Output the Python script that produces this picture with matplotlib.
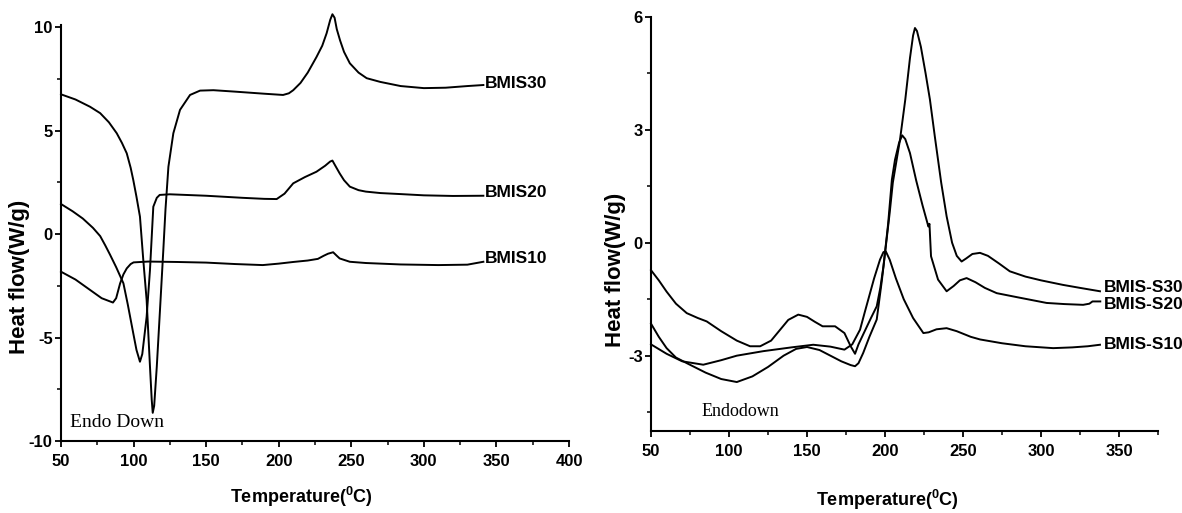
import matplotlib
matplotlib.use("Agg")
import matplotlib.pyplot as plt
from matplotlib.ticker import MultipleLocator

# ---------------- data ----------------
# Left panel
bmis30_T = [50, 60, 70, 77, 83, 88.4, 92, 95.3, 98, 99.8, 102, 104.4, 106.7, 109, 111.3, 112.5, 113.2,
            114.2, 116, 118.2, 120.5, 122, 124, 127.4, 132, 138.9, 145.8, 155, 170, 190, 203, 207, 210,
            215, 220, 226, 230, 233, 235.5, 237, 238.5, 240, 242.3, 245, 249, 255, 260.6, 270, 284,
            300, 315, 330, 341]
bmis30_Q = [6.75, 6.5, 6.15, 5.84, 5.4, 4.87, 4.4, 3.9, 3.2, 2.61, 1.8, 0.84, -1.26, -3.19, -6.4, -8.0, -8.64,
            -8.3, -6.4, -3.67, -0.77, 1.2, 3.25, 4.87, 6.0, 6.72, 6.93, 6.95, 6.88, 6.78, 6.72, 6.8, 6.95,
            7.3, 7.8, 8.55, 9.1, 9.7, 10.35, 10.62, 10.45, 9.9, 9.35, 8.8, 8.25, 7.8, 7.53, 7.35, 7.15,
            7.05, 7.07, 7.15, 7.2]

bmis20_T = [50, 58, 65, 72, 77, 80.5, 83.8, 88, 93, 96, 99.8, 102, 104.4, 106, 109, 111.3, 113.6, 116,
            118, 125, 150, 175, 190, 198.6, 204, 210, 218, 226, 232, 235.4, 237, 239, 242, 245, 249,
            255, 260, 270, 284, 300, 320, 341]
bmis20_Q = [1.45, 1.1, 0.75, 0.3, -0.1, -0.55, -1.0, -1.6, -2.38, -3.4, -4.8, -5.6, -6.17, -5.8, -4.0, -1.74,
            1.32, 1.75, 1.89, 1.92, 1.85, 1.75, 1.7, 1.69, 1.95, 2.45, 2.75, 3.01, 3.3, 3.5, 3.55, 3.3,
            2.93, 2.6, 2.29, 2.12, 2.05, 1.98, 1.93, 1.87, 1.84, 1.85]

bmis10_T = [50, 60, 70, 78, 85.8, 88, 90.7, 93, 95.3, 98, 100, 110, 130, 150, 170, 189, 200, 210, 220,
            227, 231, 234, 237.5, 240, 242, 249, 260, 284, 310, 330, 341]
bmis10_Q = [-1.82, -2.2, -2.7, -3.1, -3.31, -3.1, -2.39, -1.95, -1.66, -1.45, -1.37, -1.33, -1.35, -1.38,
            -1.45, -1.5, -1.43, -1.35, -1.28, -1.2, -1.05, -0.95, -0.88, -1.05, -1.18, -1.34, -1.4, -1.47,
            -1.5, -1.48, -1.34]

left_labels = ["BMIS30", "BMIS20", "BMIS10"]
left_label_y = [7.27, 2.0, -1.17]

# Right panel
s30_T = [50, 55, 60, 66, 73, 85, 95, 105, 115, 125, 135, 143, 150, 158, 165, 172, 178, 180.8, 183, 186,
         190, 194.7, 198, 203, 205, 209.6, 213, 216, 218, 219.2, 220.5, 223, 226, 228.8, 232, 236,
         239.5, 243, 246, 249.1, 252, 256, 260.9, 266, 273, 280, 290, 300, 314, 325, 337.8]
s30_Q = [-2.15, -2.5, -2.8, -3.05, -3.2, -3.45, -3.62, -3.7, -3.55, -3.3, -3.0, -2.82, -2.77, -2.85, -3.0,
         -3.15, -3.25, -3.28, -3.2, -2.93, -2.5, -2.04, -1.0, 0.79, 1.59, 2.73, 3.8, 4.9, 5.5, 5.7, 5.62,
         5.2, 4.5, 3.8, 2.8, 1.6, 0.7, 0.0, -0.35, -0.5, -0.42, -0.3, -0.27, -0.35, -0.55, -0.76, -0.9,
         -1.0, -1.12, -1.2, -1.29]

s20_T = [50, 55, 60, 66, 72.9, 80, 85.7, 95, 105, 113.5, 120, 127, 133, 138, 144.4, 150, 155, 160, 168,
         174, 178, 180.8, 183, 187, 191, 194.7, 197, 199, 202, 204.4, 206.4, 209, 211, 213, 216, 220,
         224, 227.8, 228.5, 229.5, 234, 239.5, 244, 248, 252.3, 258, 264, 271.6, 285, 303.6, 315, 327,
         331, 333, 338]
s20_Q = [-0.73, -1.0, -1.3, -1.62, -1.87, -2.0, -2.09, -2.35, -2.6, -2.75, -2.75, -2.6, -2.3, -2.05, -1.91,
         -1.97, -2.1, -2.22, -2.22, -2.4, -2.75, -2.95, -2.7, -2.35, -2.0, -1.69, -1.2, -0.63, 0.5, 1.67,
         2.2, 2.65, 2.85, 2.75, 2.38, 1.65, 1.0, 0.43, 0.5, -0.36, -0.98, -1.29, -1.15, -1.0, -0.94,
         -1.05, -1.2, -1.34, -1.45, -1.6, -1.63, -1.65, -1.62, -1.56, -1.56]

s10_T = [50, 60, 70, 83.5, 95, 105, 122, 140, 154, 165, 174, 179, 184, 187, 190.4, 193, 196.8, 199,
         200.5, 203, 207, 212, 218, 224.6, 228, 233, 239.5, 246, 255, 261, 275, 290, 307.8, 320, 330,
         337.8]
s10_Q = [-2.7, -2.95, -3.15, -3.24, -3.12, -3.0, -2.88, -2.78, -2.71, -2.76, -2.84, -2.7, -2.31, -1.85,
         -1.34, -0.95, -0.45, -0.25, -0.23, -0.45, -0.95, -1.5, -2.0, -2.4, -2.38, -2.3, -2.27, -2.35,
         -2.5, -2.57, -2.67, -2.75, -2.8, -2.78, -2.75, -2.71]

right_labels = ["BMIS-S30", "BMIS-S20", "BMIS-S10"]
right_label_y = [-1.2, -1.65, -2.71]

left_xticks = [50, 100, 150, 200, 250, 300, 350, 400]
left_yticks = [-10, -5, 0, 5, 10]
right_xticks = [50, 100, 150, 200, 250, 300, 350]
right_yticks = [-3, 0, 3, 6]

# ---------------- styling ----------------
plt.rcParams['axes.unicode_minus'] = False
plt.rcParams['mathtext.fontset'] = 'custom'
plt.rcParams['mathtext.rm'] = 'Liberation Sans:bold'
plt.rcParams['mathtext.default'] = 'rm'

SANS = ['Liberation Sans', 'DejaVu Sans']
SERIF = ['Liberation Serif', 'DejaVu Serif']

fig = plt.figure(figsize=(11.82, 5.13), dpi=100)
W, H = 1182, 513
axL = fig.add_axes([61 / W, (H - 441) / H, 508 / W, 416 / H])
axR = fig.add_axes([651 / W, (H - 431) / H, 507 / W, 414.3 / H])

LW = 1.4
for T, Q in [(bmis30_T, bmis30_Q), (bmis20_T, bmis20_Q), (bmis10_T, bmis10_Q)]:
    axL.plot(T, Q, color='black', lw=LW, clip_on=False)
for T, Q in [(s30_T, s30_Q), (s20_T, s20_Q), (s10_T, s10_Q)]:
    axR.plot(T, Q, color='black', lw=LW, clip_on=False)

for lab, y in zip(left_labels, left_label_y):
    axL.text(342.0, y, lab, family=SANS, weight='bold', fontsize=12.5, va='center', ha='left')
for lab, y in zip(right_labels, right_label_y):
    axR.text(340.4, y, lab, family=SANS, weight='bold', fontsize=12.5, va='center', ha='left',
             clip_on=False)

axL.text(56.2, -9.1, "Endo Down", family=SERIF, fontsize=14, va='center', ha='left')
axR.text(82.7, -4.49, "Endodown", family=SERIF, fontsize=13, va='center', ha='left')

def style(ax, xlim, ylim, xt, yt, xminor, yminor):
    ax.set_xlim(*xlim)
    ax.set_ylim(*ylim)
    ax.set_xticks(xt)
    ax.set_yticks(yt)
    ax.xaxis.set_minor_locator(MultipleLocator(xminor))
    ax.yaxis.set_minor_locator(MultipleLocator(yminor))
    for s in ['top', 'right']:
        ax.spines[s].set_visible(False)
    for s in ['left', 'bottom']:
        ax.spines[s].set_linewidth(1.5)
    ax.tick_params(which='major', direction='out', length=4.5, width=1.3, labelsize=12)
    ax.tick_params(which='minor', direction='out', length=2.8, width=1.1)
    ax.tick_params(axis='x', which='major', pad=5)
    ax.tick_params(axis='y', which='major', pad=1.5)
    for lab in ax.get_xticklabels() + ax.get_yticklabels():
        lab.set_family(SANS)
        lab.set_weight('bold')

style(axL, (50, 400), (-10, 10.1), left_xticks, left_yticks, 25, 2.5)
style(axR, (50, 375), (-5, 6), right_xticks, right_yticks, 25, 1.5)

xlab = r'Temperature($^{0}$C)'
for ax, xc, yc, yx, yy in [(axL, 0.474, -0.135, -0.081, 0.394), (axR, 0.466, -0.167, -0.071, 0.389)]:
    ax.set_xlabel(xlab, family=SANS, weight='bold', fontsize=13)
    ax.xaxis.set_label_coords(xc, yc)
    ax.xaxis.label.set_va('center')
    ax.set_ylabel('Heat flow(W/g)', family=SANS, weight='bold', fontsize=16)
    ax.yaxis.set_label_coords(yx, yy)
    ax.yaxis.label.set_va('center')

fig.savefig('out.png', dpi=100)
